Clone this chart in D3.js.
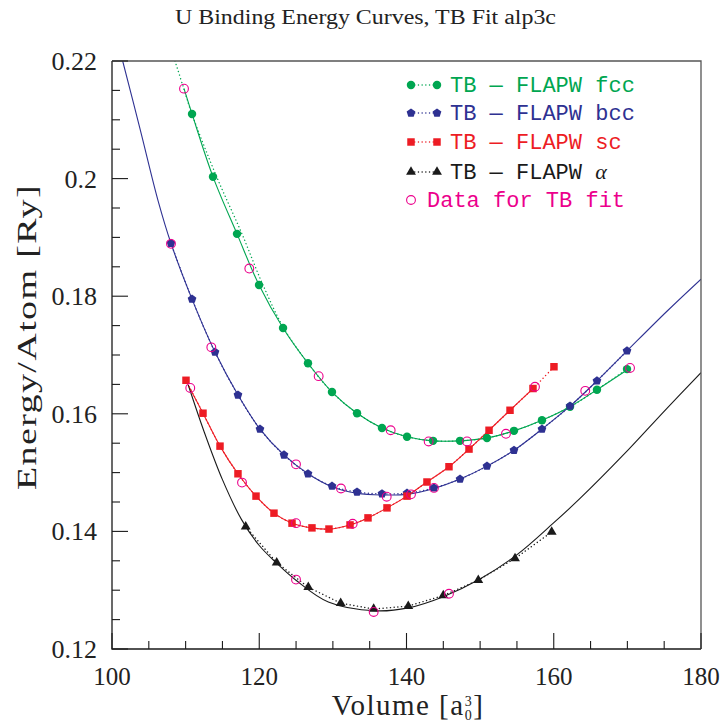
<!DOCTYPE html>
<html>
<head>
<meta charset="utf-8">
<script src="https://cdn.jsdelivr.net/npm/d3@7"></script>
<style>
  html, body { margin: 0; padding: 0; background: #fff; }
  svg { display: block; }
</style>
</head>
<body>
<svg id="chart" width="723" height="727"></svg>
<script>
// ---- Tight-binding (TB) energies, one array pair per structure ----
const fccVol = [110.87, 113.72, 116.98, 119.97, 123.23, 126.62, 129.88, 133.28, 136.67, 140.07, 143.60, 147.27, 150.93, 154.60, 158.40, 162.21, 165.87, 169.95];
const fccTB  = [0.2110, 0.2003, 0.1906, 0.1819, 0.1746, 0.1686, 0.1637, 0.1601, 0.1576, 0.1561, 0.1554, 0.1554, 0.1559, 0.1571, 0.1589, 0.1612, 0.1641, 0.1676];

const bccVol = [108.01, 110.87, 113.99, 117.11, 120.10, 123.36, 126.62, 129.88, 133.28, 136.67, 140.07, 143.73, 147.27, 150.93, 154.60, 158.40, 162.21, 165.87, 169.95];
const bccTB  = [0.1890, 0.1795, 0.1705, 0.1632, 0.1574, 0.1530, 0.1498, 0.1477, 0.1467, 0.1464, 0.1465, 0.1474, 0.1489, 0.1511, 0.1538, 0.1574, 0.1613, 0.1656, 0.1707];

const scVol = [110.05, 112.36, 114.67, 117.11, 119.56, 122.00, 124.45, 127.16, 129.47, 132.33, 134.77, 137.35, 140.07, 142.78, 145.77, 148.49, 151.21, 154.06, 157.18, 160.03];
const scTB  = [0.1657, 0.1601, 0.1545, 0.1498, 0.1460, 0.1431, 0.1414, 0.1406, 0.1404, 0.1411, 0.1423, 0.1440, 0.1460, 0.1484, 0.1510, 0.1540, 0.1572, 0.1606, 0.1643, 0.1680];

const alphaVol = [118.16, 122.37, 126.66, 131.06, 135.54, 140.24, 145.00, 149.75, 154.74, 159.72];
const alphaTB  = [0.1408, 0.1347, 0.1305, 0.1278, 0.1268, 0.1273, 0.1291, 0.1317, 0.1354, 0.1399];

// ---- Dotted TB curve for fcc (runs past the plotted points at the top) ----
const fccDotVol = [108.56, 109.68, 110.91, 114.22, 117.62, 120.44, 123.36, 126.62, 129.88, 133.28, 136.67, 140.07, 143.60, 147.27, 150.93, 154.60, 158.40, 162.21, 165.87, 169.95];
const fccDotE   = [0.2200, 0.2156, 0.2108, 0.2003, 0.1907, 0.1821, 0.1745, 0.1686, 0.1637, 0.1601, 0.1576, 0.1561, 0.1554, 0.1554, 0.1559, 0.1571, 0.1589, 0.1612, 0.1641, 0.1676];

// ---- Solid FLAPW curves ----
const fccFitVol = [109.78, 110.87, 113.72, 116.98, 119.97, 123.23, 126.62, 129.88, 133.28, 136.67, 140.07, 143.60, 147.27, 150.93, 154.60, 158.40, 162.21, 165.87, 170.36];
const fccFitE   = [0.2153, 0.2110, 0.2003, 0.1906, 0.1819, 0.1746, 0.1686, 0.1637, 0.1601, 0.1576, 0.1561, 0.1554, 0.1554, 0.1559, 0.1571, 0.1589, 0.1612, 0.1641, 0.1678];

const bccFitVol = [101.45, 103.84, 106.29, 108.01, 110.87, 113.99, 117.11, 120.10, 123.36, 126.62, 129.88, 133.28, 136.67, 140.07, 143.73, 147.27, 150.93, 154.60, 158.40, 162.21, 165.87, 169.95, 175.34, 180.00];
const bccFitE   = [0.2200, 0.2083, 0.1961, 0.1890, 0.1795, 0.1705, 0.1632, 0.1574, 0.1530, 0.1498, 0.1476, 0.1465, 0.1462, 0.1463, 0.1473, 0.1489, 0.1511, 0.1538, 0.1574, 0.1613, 0.1656, 0.1707, 0.1774, 0.1829];

const scFitVol = [110.30, 112.36, 114.67, 117.11, 119.56, 122.00, 124.45, 127.16, 129.47, 132.33, 134.77, 137.35, 140.07, 142.78, 145.77, 148.49, 151.21, 154.06, 157.45];
const scFitE   = [0.1650, 0.1601, 0.1545, 0.1498, 0.1460, 0.1431, 0.1414, 0.1406, 0.1404, 0.1411, 0.1423, 0.1440, 0.1460, 0.1484, 0.1510, 0.1540, 0.1572, 0.1606, 0.1646];

const alphaFitVol = [110.36, 112.50, 115.00, 117.60, 120.00, 122.37, 124.99, 129.38, 135.72, 140.24, 145.00, 149.98, 154.97, 159.94, 163.57, 169.45, 175.34, 180.00];
const alphaFitE   = [0.1649, 0.1570, 0.1488, 0.1420, 0.1376, 0.1346, 0.1317, 0.1280, 0.1265, 0.1270, 0.1289, 0.1319, 0.1360, 0.1414, 0.1456, 0.1530, 0.1609, 0.1670];

// ---- Points used in the TB fit ----
const fitVol = [109.78, 118.65, 128.07, 137.85, 143.01, 148.22, 153.51, 170.36,
                108.01, 113.49, 124.99, 131.10, 137.31, 140.61, 143.73, 164.28,
                110.63, 117.66, 124.99, 132.69, 157.45,
                124.99, 135.54, 145.77];
const fitE   = [0.2153, 0.1847, 0.1664, 0.1572, 0.1553, 0.1553, 0.1566, 0.1678,
                0.1889, 0.1713, 0.1514, 0.1473, 0.1459, 0.1463, 0.1474, 0.1639,
                0.1644, 0.1483, 0.1414, 0.1413, 0.1646,
                0.1318, 0.1263, 0.1294];

// ---- Axes ----
const xTicks = [100, 120, 140, 160, 180];
const yTicks = [0.12, 0.14, 0.16, 0.18, 0.20, 0.22];
const yTickLabels = ["0.12", "0.14", "0.16", "0.18", "0.2", "0.22"];

const titleText = "U Binding Energy Curves, TB Fit alp3c";
const legendLabels = ["TB \u2014 FLAPW fcc", "TB \u2014 FLAPW bcc", "TB \u2014 FLAPW sc", "TB \u2014 FLAPW ", "Data for TB fit"];

const GREEN = "#00a651", BLUE = "#2e3192", RED = "#ed1c24", BLACK = "#1a1a1a", PINK = "#ec008c";

const W = 723, H = 727;
const margin = { left: 112, right: 22, top: 61, bottom: 78 };
const svg = d3.select("#chart");

const x = d3.scaleLinear().domain([100, 180]).range([margin.left, W - margin.right]);
const y = d3.scaleLinear().domain([0.12, 0.22]).range([H - margin.bottom, margin.top]);

const zip = (xs, ys) => xs.map((v, i) => [v, ys[i]]);

// pentagon marker for bcc
const symbolPentagon = {
  draw(ctx, size) {
    const r = Math.sqrt(size / 2.3776);
    for (let i = 0; i < 5; i++) {
      const a = -Math.PI / 2 + i * 2 * Math.PI / 5;
      const px = r * Math.cos(a), py = r * Math.sin(a);
      if (i === 0) ctx.moveTo(px, py); else ctx.lineTo(px, py);
    }
    ctx.closePath();
  }
};

svg.append("defs").append("clipPath").attr("id", "plotClip")
  .append("rect")
  .attr("x", margin.left).attr("y", margin.top)
  .attr("width", W - margin.left - margin.right)
  .attr("height", H - margin.top - margin.bottom);

const plot = svg.append("g").attr("clip-path", "url(#plotClip)");

const smooth = d3.line().x(d => x(d[0])).y(d => y(d[1])).curve(d3.curveCatmullRom.alpha(0.5));
const straight = d3.line().x(d => x(d[0])).y(d => y(d[1]));

function solid(data, color) {
  plot.append("path").attr("d", smooth(data)).attr("fill", "none")
    .attr("stroke", color).attr("stroke-width", 1.1);
}
function dotted(data, color, gen) {
  plot.append("path").attr("d", (gen || straight)(data)).attr("fill", "none")
    .attr("stroke", color).attr("stroke-width", 1.4)
    .attr("stroke-linecap", "round").attr("stroke-dasharray", "0.1,3.6");
}
function markers(data, color, type, size) {
  plot.append("g").selectAll("path").data(data).join("path")
    .attr("transform", d => `translate(${x(d[0])},${y(d[1])})`)
    .attr("d", d3.symbol().type(type).size(size))
    .attr("fill", color);
}

// solid FLAPW curves
solid(zip(fccFitVol, fccFitE), GREEN);
solid(zip(bccFitVol, bccFitE), BLUE);
solid(zip(scFitVol, scFitE), RED);
solid(zip(alphaFitVol, alphaFitE), BLACK);

// dotted TB curves
dotted(zip(fccDotVol, fccDotE), GREEN, smooth);
dotted(zip(bccVol, bccTB), BLUE, smooth);
dotted(zip(scVol, scTB), RED, smooth);
dotted(zip(alphaVol, alphaTB), BLACK);

// TB markers
markers(zip(fccVol, fccTB), GREEN, d3.symbolCircle, 56);
markers(zip(bccVol, bccTB), BLUE, symbolPentagon, 50);
markers(zip(scVol, scTB), RED, d3.symbolSquare, 56);
markers(zip(alphaVol, alphaTB), BLACK, d3.symbolTriangle, 42);

// fit data, open circles
plot.append("g").selectAll("circle").data(zip(fitVol, fitE)).join("circle")
  .attr("cx", d => x(d[0])).attr("cy", d => y(d[1])).attr("r", 4.4)
  .attr("fill", "none").attr("stroke", PINK).attr("stroke-width", 1.1);

// ---- frame and ticks ----
const x0 = x(100), x1 = x(180), y0 = y(0.12), y1 = y(0.22);
const frame = svg.append("g").attr("stroke", BLACK).attr("stroke-width", 1.3).attr("fill", "none");
frame.append("path").attr("d", `M${x0},${y1}L${x0},${y0}L${x1},${y0}`);
frame.append("path").attr("d", `M${x0},${y1}L${x1},${y1}L${x1},${y0}`).attr("stroke", "#555");

const xMinor = d3.range(100, 180.1, 5);
const yMinor = d3.range(0.12, 0.2201, 0.005);
const tk = svg.append("g").attr("stroke", BLACK).attr("stroke-width", 1.1);
tk.selectAll("line.xm").data(xMinor).join("line")
  .attr("x1", d => x(d)).attr("x2", d => x(d))
  .attr("y1", y0).attr("y2", d => y0 - (xTicks.includes(Math.round(d)) ? 16 : 8));
tk.selectAll("line.ym").data(yMinor).join("line")
  .attr("y1", d => y(d)).attr("y2", d => y(d))
  .attr("x1", x0).attr("x2", d => x0 + (Math.abs(Math.round(d * 1000) % 20) === 0 ? 16 : 8));

const serif = "'Liberation Serif', 'DejaVu Serif', serif";
const mono = "'Liberation Mono', 'DejaVu Sans Mono', monospace";
const TEXT = "#222";

svg.append("g").selectAll("text").data(xTicks).join("text")
  .attr("x", d => x(d)).attr("y", y0 + 36)
  .attr("text-anchor", "middle").attr("font-family", serif).attr("font-size", 25)
  .attr("fill", TEXT).text(d => d);

svg.append("g").selectAll("text").data(yTicks).join("text")
  .attr("x", x0 - 15).attr("y", d => y(d) + 9)
  .attr("text-anchor", "end").attr("font-family", serif).attr("font-size", 26)
  .attr("fill", TEXT).text((d, i) => yTickLabels[i]);

// title
svg.append("text").attr("x", 175).attr("y", 24)
  .attr("font-family", serif).attr("font-size", 20).attr("fill", TEXT)
  .attr("textLength", 381).attr("lengthAdjust", "spacingAndGlyphs")
  .text(titleText);

// x-axis label with stacked sub/superscript
const xl = svg.append("text").attr("x", 408).attr("y", 715)
  .attr("text-anchor", "middle").attr("font-family", serif).attr("font-size", 29)
  .attr("letter-spacing", 1.5).attr("fill", TEXT);
xl.append("tspan").text("Volume [a");
xl.append("tspan").attr("font-size", 14).attr("dy", -9).text("3");
xl.append("tspan").attr("font-size", 14).attr("dx", -8.5).attr("dy", 14).text("0");
xl.append("tspan").attr("dy", -5).text("]");

// y-axis label
svg.append("text").attr("transform", "translate(36,490) rotate(-90)")
  .attr("font-family", serif).attr("font-size", 28).attr("fill", TEXT)
  .attr("letter-spacing", 1)
  .attr("textLength", 306).attr("lengthAdjust", "spacingAndGlyphs")
  .text("Energy/Atom [Ry]");

// ---- legend ----
const legendColors = [GREEN, BLUE, RED, BLACK];
const legendTypes = [d3.symbolCircle, symbolPentagon, d3.symbolSquare, d3.symbolTriangle];
const legendSizes = [56, 50, 56, 42];
const rowY = [85, 113, 142, 172, 200];
const lg = svg.append("g");
legendColors.forEach((c, i) => {
  lg.append("line").attr("x1", 411).attr("x2", 437).attr("y1", rowY[i]).attr("y2", rowY[i])
    .attr("stroke", c).attr("stroke-width", 1.4).attr("stroke-linecap", "round")
    .attr("stroke-dasharray", "0.1,3.6");
  [411, 437].forEach(px => lg.append("path")
    .attr("transform", `translate(${px},${rowY[i]})`)
    .attr("d", d3.symbol().type(legendTypes[i]).size(legendSizes[i])).attr("fill", c));
  const t = lg.append("text").attr("x", 450).attr("y", rowY[i] + 7)
    .attr("font-family", mono).attr("font-size", 22).attr("fill", c)
    .text(legendLabels[i]);
  if (i === 3) t.append("tspan").attr("font-family", serif).attr("font-style", "italic").text("\u03b1");
});
lg.append("circle").attr("cx", 411).attr("cy", rowY[4]).attr("r", 4.4)
  .attr("fill", "none").attr("stroke", PINK).attr("stroke-width", 1.1);
lg.append("text").attr("x", 427).attr("y", rowY[4] + 7)
  .attr("font-family", mono).attr("font-size", 22).attr("fill", PINK)
  .text(legendLabels[4]);
</script>
</body>
</html>
